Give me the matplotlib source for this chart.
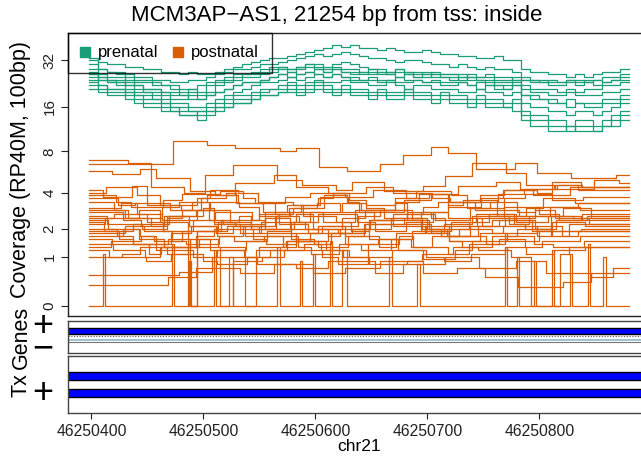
import numpy as np
import matplotlib.pyplot as plt
from matplotlib.patches import Rectangle
from matplotlib.lines import Line2D

plt.rcParams['font.family'] = ['Liberation Sans', 'DejaVu Sans']

title = "MCM3AP\u2212AS1, 21254 bp from tss: inside"
chrom = "chr21"
region_start = 46250398
region_end = 46250880
x_ticks = [46250400, 46250500, 46250600, 46250700, 46250800]
y_tick_values = [0, 1, 2, 4, 8, 16, 32]
groups = ["prenatal", "postnatal"]
group_colors = ["#1B9E77", "#D95F02"]

# prenatal coverage, equal-width bins across the region
prenatal = [
    [33, 31, 30, 30, 29, 29, 28, 28, 27, 27, 26, 27, 26, 26, 27, 28, 29, 30, 31, 32,
     33, 33, 34, 35, 36, 37, 38, 40, 39, 40, 38, 38, 37, 38, 37, 36, 36, 37, 36, 35,
     35, 34, 34, 33, 33, 34, 32, 32, 28, 27, 27, 26, 26, 25, 26, 25, 26, 27, 27, 28],
    [30, 28, 27, 27, 26, 25, 25, 24, 24, 23, 23, 24, 24, 25, 26, 27, 28, 28, 29, 30,
     30, 31, 32, 33, 34, 35, 34, 35, 36, 35, 34, 33, 33, 32, 31, 32, 32, 31, 30, 30,
     29, 30, 29, 28, 29, 28, 28, 27, 24, 24, 23, 24, 23, 24, 24, 23, 24, 25, 25, 26],
    [27, 26, 25, 25, 24, 23, 23, 22, 22, 21, 20, 21, 20, 22, 23, 24, 25, 26, 26, 27,
     28, 29, 28, 29, 30, 30, 29, 30, 31, 30, 29, 28, 28, 27, 28, 27, 27, 26, 27, 26,
     26, 26, 25, 25, 26, 25, 25, 24, 24, 23, 23, 22, 22, 23, 22, 23, 22, 23, 24, 24],
    [26, 24, 23, 23, 22, 21, 20, 20, 19, 18, 18, 19, 18, 19, 20, 21, 22, 23, 23, 24,
     25, 26, 27, 26, 27, 28, 27, 28, 27, 26, 27, 26, 27, 26, 25, 26, 25, 25, 26, 25,
     24, 25, 24, 24, 23, 22, 22, 23, 22, 21, 21, 21, 20, 21, 20, 21, 21, 22, 22, 23],
    [25, 24, 23, 22, 21, 20, 20, 19, 18, 17, 17, 16, 16, 17, 18, 19, 20, 21, 22, 23,
     23, 24, 25, 24, 25, 26, 25, 26, 25, 24, 24, 24, 23, 24, 23, 23, 24, 23, 23, 22,
     22, 23, 22, 21, 22, 21, 21, 22, 19, 18, 18, 17, 17, 16, 17, 16, 16, 17, 17, 18],
    [24, 22, 21, 21, 20, 19, 19, 18, 17, 16, 16, 15, 15, 16, 17, 18, 19, 19, 20, 21,
     21, 22, 23, 22, 23, 24, 23, 23, 24, 23, 23, 22, 22, 23, 22, 21, 22, 22, 21, 21,
     21, 20, 20, 21, 20, 20, 19, 20, 17, 16, 16, 15, 15, 14, 15, 15, 14, 15, 16, 17],
    [28, 25, 24, 23, 22, 22, 21, 21, 20, 19, 19, 18, 18, 19, 20, 21, 22, 23, 23, 24,
     25, 26, 25, 26, 27, 26, 25, 26, 25, 25, 24, 25, 24, 24, 25, 24, 24, 23, 24, 23,
     23, 23, 22, 23, 22, 22, 21, 22, 19, 19, 18, 18, 17, 18, 17, 17, 17, 18, 18, 19],
    [23, 22, 21, 21, 20, 19, 18, 18, 17, 16, 15, 15, 14, 15, 16, 17, 18, 18, 19, 20,
     21, 21, 22, 21, 22, 23, 22, 21, 22, 21, 21, 20, 21, 20, 20, 21, 20, 20, 19, 20,
     19, 19, 18, 19, 18, 18, 17, 18, 15, 14, 14, 13, 13, 12, 13, 13, 12, 13, 14, 15],
    [22, 21, 20, 20, 19, 18, 17, 17, 16, 15, 14, 14, 13, 14, 15, 16, 17, 17, 18, 19,
     19, 20, 21, 20, 21, 22, 21, 20, 21, 20, 20, 19, 20, 19, 19, 20, 19, 19, 18, 19,
     18, 18, 17, 18, 17, 17, 16, 17, 14, 13, 13, 12, 12, 11, 12, 12, 11, 12, 13, 14],
    [32, 28, 27, 26, 25, 24, 24, 23, 22, 22, 21, 21, 22, 23, 24, 25, 26, 26, 27, 28,
     29, 29, 28, 29, 30, 29, 28, 29, 28, 28, 27, 28, 27, 27, 28, 27, 26, 27, 26, 26,
     26, 25, 26, 25, 25, 24, 24, 25, 25, 24, 24, 23, 23, 24, 23, 24, 24, 23, 24, 25],
    [21, 20, 19, 19, 18, 17, 16, 16, 15, 15, 14, 14, 15, 15, 16, 16, 17, 17, 18, 19,
     19, 20, 20, 19, 20, 21, 20, 19, 20, 19, 19, 18, 19, 18, 18, 19, 18, 18, 17, 18,
     17, 17, 16, 17, 16, 16, 16, 15, 13, 12, 12, 11, 11, 12, 11, 11, 11, 12, 12, 13],
    [26, 25, 24, 24, 23, 22, 21, 21, 20, 20, 19, 20, 19, 20, 22, 23, 24, 25, 25, 26,
     27, 28, 27, 28, 29, 28, 27, 28, 27, 27, 26, 27, 26, 26, 27, 26, 25, 26, 25, 25,
     25, 24, 25, 24, 24, 23, 23, 24, 21, 20, 20, 19, 19, 20, 19, 19, 19, 20, 20, 21],
]

# postnatal coverage as runs of (length in bp, coverage)
postnatal = [
    [(75, 6.5), (30, 9.5), (25, 8.8), (40, 8.5), (15, 8.0), (20, 8.4), (25, 6.2), (30, 5.8), (20, 6.5),
     (25, 7.6), (15, 8.6), (25, 7.8), (35, 6.0), (20, 6.6), (30, 5.6), (40, 5.2), (40, 5.4)],
    [(35, 7.0), (20, 6.6), (30, 4.4), (18, 4.0), (25, 5.4), (40, 6.4), (22, 5.0), (30, 4.6), (15, 4.2),
     (28, 4.8), (35, 4.1), (20, 4.5), (24, 5.3), (30, 6.6), (18, 5.6), (26, 4.6), (35, 4.3), (22, 5.0), (30, 4.7)],
    [(20, 5.8), (25, 5.5), (15, 6.0), (30, 5.2), (22, 4.1), (18, 3.8), (35, 4.7), (20, 5.4), (28, 4.4),
     (15, 4.0), (25, 3.7), (30, 4.2), (20, 3.6), (26, 3.9), (34, 4.5), (22, 4.8), (30, 4.3), (25, 4.6), (30, 4.4)],
    [(12, 4.2), (26, 3.7), (14, 4.5), (30, 3.2), (18, 2.9), (22, 3.6), (9, 4.0), (35, 3.3), (16, 2.7), (28, 3.0),
     (20, 3.8), (11, 3.4), (40, 2.8), (24, 3.5), (15, 3.9), (30, 3.1), (19, 3.6), (27, 4.2), (33, 3.8), (40, 4.4)],
    [(22, 3.4), (10, 2.9), (33, 2.5), (15, 3.1), (27, 3.4), (12, 2.4), (38, 2.2), (20, 2.8), (14, 3.2), (29, 2.6),
     (17, 2.3), (36, 2.9), (11, 3.3), (25, 2.7), (31, 2.4), (18, 3.0), (24, 3.4), (16, 2.8), (40, 3.1), (30, 2.9)],
    [(30, 2.8), (16, 2.4), (21, 2.1), (35, 2.6), (9, 3.0), (24, 2.2), (18, 1.8), (32, 2.3), (15, 2.7), (26, 2.0),
     (20, 2.5), (38, 2.9), (12, 2.4), (27, 1.9), (22, 2.3), (34, 2.7), (14, 2.2), (30, 2.6), (25, 3.0), (40, 2.5)],
    [(17, 2.4), (28, 2.0), (13, 1.7), (25, 1.5), (32, 1.9), (19, 2.3), (10, 2.6), (36, 2.0), (21, 1.6), (15, 1.4),
     (29, 1.8), (24, 2.2), (33, 2.5), (12, 2.0), (26, 1.7), (20, 2.1), (35, 2.4), (18, 1.9), (30, 2.3), (40, 2.1)],
    [(25, 2.0), (14, 1.7), (31, 1.4), (20, 1.6), (6, 0.0), (27, 1.9), (16, 2.1), (34, 1.7), (12, 1.3), (28, 1.5),
     (22, 1.8), (15, 2.0), (37, 1.6), (19, 1.3), (24, 1.7), (30, 2.0), (13, 1.8), (29, 1.5), (26, 1.9), (40, 2.2)],
    [(20, 1.6), (33, 1.4), (11, 1.1), (26, 1.3), (18, 1.6), (30, 1.2), (14, 1.0), (24, 1.3), (35, 1.5), (16, 1.2),
     (22, 1.0), (28, 1.4), (12, 1.7), (31, 1.3), (19, 1.1), (27, 1.4), (23, 1.6), (15, 1.3), (34, 1.5), (40, 1.7)],
    [(28, 3.0), (15, 3.3), (22, 2.7), (31, 2.4), (12, 2.9), (26, 3.4), (18, 3.1), (35, 2.6), (10, 2.3), (29, 2.8),
     (21, 3.3), (16, 3.0), (33, 2.5), (24, 2.8), (14, 3.2), (30, 3.5), (20, 2.9), (27, 2.6), (25, 3.1), (40, 3.3)],
    [(14, 2.2), (30, 2.5), (19, 2.9), (25, 2.3), (8, 0.0), (22, 1.9), (34, 2.4), (17, 2.7), (26, 2.2), (13, 1.8),
     (32, 2.1), (20, 2.6), (28, 2.9), (15, 2.4), (36, 2.0), (18, 2.3), (24, 2.7), (29, 2.3), (22, 2.6), (40, 2.5)],
    [(32, 1.8), (17, 2.1), (25, 1.9), (12, 1.5), (30, 1.4), (21, 1.7), (15, 2.1), (33, 1.8), (19, 1.5), (27, 1.3),
     (14, 1.7), (24, 2.0), (36, 2.2), (16, 1.8), (28, 1.5), (20, 1.8), (31, 2.1), (13, 1.7), (26, 1.9), (40, 2.0)],
    [(19, 1.3), (27, 1.5), (14, 1.7), (33, 1.2), (21, 1.0), (26, 1.2), (16, 1.5), (30, 1.7), (12, 1.3), (25, 1.1),
     (35, 1.4), (18, 1.6), (22, 1.2), (29, 0.95), (15, 1.2), (31, 1.5), (24, 1.7), (17, 1.4), (28, 1.3), (40, 1.5)],
    [(24, 3.8), (13, 3.4), (29, 3.1), (17, 3.5), (34, 3.9), (20, 4.1), (11, 3.6), (27, 3.3), (22, 3.7), (35, 4.0),
     (15, 3.5), (26, 3.2), (19, 3.6), (31, 4.1), (14, 3.8), (28, 3.4), (23, 3.9), (30, 4.3), (18, 4.6), (40, 4.2)],
    [(16, 2.6), (31, 2.2), (22, 2.0), (14, 2.5), (28, 2.9), (19, 2.3), (36, 2.1), (12, 2.6), (25, 3.0), (21, 3.3),
     (30, 2.8), (17, 2.4), (27, 2.7), (13, 3.1), (33, 3.4), (20, 2.9), (26, 2.6), (15, 3.0), (29, 3.6), (40, 3.3)],
    [(27, 1.9), (12, 1.6), (34, 1.4), (18, 1.8), (23, 2.1), (15, 1.7), (30, 1.5), (21, 1.9), (13, 2.3), (29, 2.0),
     (24, 1.8), (35, 2.2), (16, 2.5), (22, 2.0), (28, 1.7), (19, 2.1), (32, 2.4), (14, 2.0), (27, 2.6), (40, 2.4)],
    [(21, 1.4), (29, 1.2), (13, 1.0), (35, 1.3), (17, 1.6), (24, 1.3), (10, 0.0), (28, 1.2), (20, 1.5), (31, 1.8),
     (15, 1.4), (26, 1.2), (19, 1.6), (33, 1.9), (12, 1.5), (27, 1.3), (22, 1.7), (30, 2.0), (16, 1.7), (40, 1.9)],
    [(35, 2.9), (20, 2.5), (14, 2.1), (26, 2.6), (31, 2.9), (18, 2.3), (23, 2.0), (12, 2.6), (30, 2.8), (25, 2.3),
     (16, 1.9), (34, 2.4), (21, 2.8), (13, 2.5), (28, 2.1), (24, 2.5), (32, 3.1), (17, 2.7), (25, 2.4), (40, 2.6)],
    [(13, 2.3), (26, 1.9), (32, 2.2), (18, 2.6), (24, 2.1), (15, 1.8), (29, 2.1), (22, 2.5), (34, 2.0), (11, 1.7),
     (27, 2.0), (20, 2.4), (30, 2.1), (16, 1.8), (25, 2.2), (33, 2.6), (14, 2.2), (28, 2.0), (23, 2.4), (40, 2.7)],
    [(30, 1.7), (14, 2.0), (23, 1.6), (28, 1.3), (16, 1.7), (35, 2.0), (12, 1.6), (27, 1.4), (19, 1.8), (24, 2.1),
     (31, 1.7), (15, 1.3), (26, 1.8), (21, 2.1), (33, 1.7), (17, 1.4), (29, 1.8), (22, 2.1), (14, 1.7), (40, 1.9)],
    [(26, 3.6), (15, 3.2), (31, 3.3), (20, 2.9), (13, 3.4), (28, 3.8), (22, 3.3), (34, 2.8), (17, 3.2), (25, 3.7),
     (12, 3.3), (30, 2.9), (21, 3.4), (27, 3.9), (16, 3.4), (33, 3.0), (19, 3.6), (24, 3.9), (28, 3.5), (40, 3.7)],
    [(18, 1.2), (33, 1.0), (22, 0.9), (15, 1.1), (29, 1.3), (11, 0.0), (26, 0.9), (20, 1.0), (34, 1.2), (14, 1.0),
     (27, 0.8), (21, 1.0), (31, 1.2), (16, 1.0), (24, 0.9), (30, 1.1), (19, 1.3), (25, 1.1), (28, 1.2), (40, 1.3)],
    [(22, 2.5), (30, 2.7), (14, 2.3), (27, 1.9), (19, 2.4), (33, 2.8), (12, 2.4), (26, 2.0), (21, 2.3), (35, 2.7),
     (16, 2.3), (28, 1.9), (24, 2.3), (13, 2.8), (31, 2.5), (20, 2.1), (27, 2.5), (18, 2.9), (30, 2.5), (40, 2.2)],
    [(15, 4.0), (28, 4.4), (20, 3.8), (33, 3.2), (12, 3.6), (25, 4.2), (18, 4.0), (31, 3.4), (22, 3.2), (14, 3.6),
     (29, 4.0), (24, 4.4), (35, 4.0), (16, 3.6), (27, 3.4), (21, 3.8), (30, 4.2), (13, 4.0), (26, 4.8), (40, 4.4)],
    [(29, 1.0), (16, 1.1), (24, 1.3), (33, 1.1), (12, 0.9), (27, 0.8), (20, 1.0), (31, 1.2), (15, 1.4), (25, 1.2),
     (18, 1.0), (34, 0.8), (13, 0.9), (28, 1.1), (22, 1.3), (30, 1.2), (17, 1.0), (26, 0.0), (8, 1.1), (40, 1.3)],
    [(80, 0.55), (30, 0.62), (40, 1.0), (35, 0.8), (28, 0.7), (42, 0.9), (25, 0.6), (38, 0.8), (30, 1.0),
     (33, 0.7), (27, 0.9), (40, 0.6), (20, 0.5), (45, 0.7), (40, 0.8)],
    [(70, 0.35), (25, 0.5), (40, 0.7), (30, 0.6), (35, 0.8), (28, 0.6), (32, 0.7), (38, 0.9), (30, 0.6),
     (25, 0.7), (30, 0.5), (40, 0.3), (25, 0.4), (40, 0.6), (40, 0.6)],
]

# one postnatal sample sits at zero with short bursts of coverage
zero_sample_pos = [46250398, 46250410, 46250412, 46250472, 46250474, 46250487, 46250489,
                   46250509, 46250511, 46250523, 46250526, 46250566, 46250568, 46250586,
                   46250588, 46250598, 46250600, 46250613, 46250615, 46250624, 46250628,
                   46250666, 46250668, 46250691, 46250693, 46250769, 46250771, 46250780,
                   46250782, 46250795, 46250797, 46250811, 46250813, 46250827, 46250829,
                   46250843, 46250845, 46250857, 46250859]
zero_sample_cov = [0, 1.1, 0, 1.4, 0, 0.9, 0, 1.2, 0, 1.0, 0, 1.3, 0, 0.9, 0, 1.1, 0, 1.5, 0,
                   1.2, 0, 1.0, 0, 0.8, 0, 1.3, 0, 1.0, 0, 0.9, 0, 1.2, 0, 1.1, 0, 1.4, 0, 1.0, 0]

gene_exons = [(46250300, 46251000)]
tx_exons = [(46250300, 46251000), (46250300, 46251000)]


def tr(v):
    return np.log2(np.asarray(v, dtype=float) + 1)


def runs_to_steps(runs):
    lengths = np.array([r[0] for r in runs])
    vals = np.array([r[1] for r in runs])
    starts = region_start + np.concatenate([[0], np.cumsum(lengths)[:-1]])
    keep = starts < region_end
    xs = np.append(starts[keep], region_end)
    ys = np.append(vals[keep], vals[keep][-1])
    return xs, ys


W, H = 641, 459
fig = plt.figure(figsize=(W / 100, H / 100), dpi=100)


def px_axes(left, top, right, bottom):
    return fig.add_axes([left / W, 1 - bottom / H, (right - left) / W, (bottom - top) / H])


xlim = (46250378.6, 46250900)
spine_col = '#222222'

# coverage panel
ax = px_axes(67.5, 33, 651.5, 316)
for cov in prenatal:
    edges = np.linspace(region_start, region_end, len(cov) + 1)
    ax.plot(edges, tr(cov + [cov[-1]]), drawstyle='steps-post', color=group_colors[0], lw=0.9)
for runs in postnatal:
    xs, ys = runs_to_steps(runs)
    ax.plot(xs, tr(ys), drawstyle='steps-post', color=group_colors[1], lw=0.9)
ax.plot(zero_sample_pos + [region_end], tr(zero_sample_cov + [0]), drawstyle='steps-post',
        color=group_colors[1], lw=0.9)

ax.set_xlim(*xlim)
ax.set_ylim(-0.2115, 5.60)
ax.set_xticks([])
ax.set_yticks(tr(y_tick_values))
ax.set_yticklabels([str(v) for v in y_tick_values], rotation=90, va='center', fontsize=11)
ax.tick_params(axis='y', length=5, width=0.8, pad=3, colors=spine_col)
for s in ax.spines.values():
    s.set_color(spine_col)
    s.set_linewidth(1.0)

handles = [Line2D([], [], marker='s', ls='', color=c, markersize=6.5) for c in group_colors]
leg = ax.legend(handles, groups, loc='upper left', ncol=2, fontsize=12, frameon=True,
                fancybox=False, borderaxespad=0, borderpad=0.75, handlelength=0.6,
                handletextpad=0.5, columnspacing=0.85)
leg.get_frame().set_facecolor('none')
leg.get_frame().set_edgecolor('black')
leg.get_frame().set_linewidth(1.0)

# gene track
axg = px_axes(67.5, 320.7, 651.5, 352.7)
axg.set_xlim(*xlim)
axg.set_ylim(0, 1)
for s, e in gene_exons:
    axg.add_patch(Rectangle((s, 0.575), e - s, 0.19, facecolor='#0000FF', edgecolor='black', lw=1))
axg.axhline(0.51, color='#555555', lw=0.8, ls=(0, (1, 1.5)))
axg.axhline(0.40, color='#8fb8c4', lw=1.2)
axg.axhline(0.345, color='#777777', lw=0.8)
axg.set_xticks([])
axg.set_yticks([])
for s in axg.spines.values():
    s.set_color('#444444')
    s.set_linewidth(1.0)

# transcript track
axt = px_axes(67.5, 356, 651.5, 413.3)
axt.set_xlim(*xlim)
axt.set_ylim(0, 1)
for (s, e), yb in zip(tx_exons, [0.581, 0.279]):
    axt.add_patch(Rectangle((s, yb), e - s, 0.145, facecolor='#0000FF', edgecolor='black', lw=1))
axt.set_yticks([])
axt.set_xticks(x_ticks)
axt.set_xticklabels([str(t) for t in x_ticks], fontsize=11.3)
axt.tick_params(axis='x', length=4.5, width=0.8, pad=3, colors=spine_col)
axt.set_xlabel(chrom, fontsize=12.5, labelpad=0)
for s in axt.spines.values():
    s.set_color('#444444')
    s.set_linewidth(1.0)

# labels in the left margin
fig.text(337 / W, 1 - 16 / H, title, ha='center', va='center', fontsize=16)
fig.text(21 / W, 1 - 170 / H, "Coverage (RP40M, 100bp)", rotation=90, ha='center', va='center', fontsize=15.5)
fig.text(21 / W, 1 - 337 / H, "Genes", rotation=90, ha='center', va='center', fontsize=15.5)
fig.text(21 / W, 1 - 385 / H, "Tx", rotation=90, ha='center', va='center', fontsize=15.5)
fig.text(43 / W, 1 - 338 / H, "+\n\u2212", ha='center', va='center', fontsize=26, linespacing=0.55)
fig.text(43 / W, 1 - 393 / H, "+", ha='center', va='center', fontsize=26)

fig.savefig("out.png", dpi=100)
